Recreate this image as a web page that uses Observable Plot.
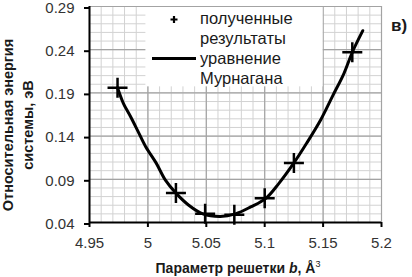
<!DOCTYPE html>
<html><head><meta charset="utf-8">
<script src="https://cdn.jsdelivr.net/npm/d3@7"></script>
<script src="https://cdn.jsdelivr.net/npm/@observablehq/plot@0.6"></script>
<style>
html,body{margin:0;padding:0;background:#fff;}
#chart{width:412px;height:277px;position:relative;}
#chart svg{font-family:"Liberation Sans",Arial,sans-serif;}
</style></head><body><div id="chart"></div>
<script>
// Data
const pointB = [4.974, 5.024, 5.049, 5.074, 5.100, 5.125, 5.175];
const pointE = [0.196, 0.074, 0.050, 0.049, 0.068, 0.109, 0.237];
const curveB = [4.974, 4.979, 4.985, 4.991, 4.998, 5.007, 5.015, 5.024, 5.035, 5.047, 5.062, 5.075, 5.088, 5.101, 5.112, 5.125, 5.136, 5.148, 5.158, 5.168, 5.175, 5.184];
const curveE = [0.196, 0.178, 0.163, 0.147, 0.128, 0.109, 0.089, 0.074, 0.060, 0.050, 0.047, 0.050, 0.058, 0.068, 0.085, 0.109, 0.132, 0.159, 0.186, 0.213, 0.237, 0.262];
const xTicks = [4.95, 5.0, 5.05, 5.1, 5.15, 5.2];
const xTickLabels = ["4.95", "5", "5.05", "5.1", "5.15", "5.2"];
const yTicks = [0.04, 0.09, 0.14, 0.19, 0.24, 0.29];
const yTickLabels = ["0.04", "0.09", "0.14", "0.19", "0.24", "0.29"];
const legendPoints = ["полученные", "результаты"];
const legendCurve = ["уравнение", "Мурнагана"];
const yLabelLines = ["Относительная энергия", "системы, эВ"];
const xLabelParts = ["Параметр решетки ", "b", ", Å", "3"];
const panelLabel = "в)";

const points = pointB.map((b, i) => ({b, e: pointE[i]}));
const curve = curveB.map((b, i) => ({b, e: curveE[i]}));
const minorX = d3.range(26).map(i => +(4.95 + i * 0.01).toFixed(2));
const minorY = d3.range(26).map(i => +(0.04 + i * 0.01).toFixed(2));

const W = 412, H = 277, ML = 89, MR = 31, MT = 6, MB = 55;
const xDomain = [4.95, 5.2], yDomain = [0.04, 0.29];

const plusSymbol = {
  draw(ctx, size) {
    const r = Math.sqrt(size / Math.PI);
    ctx.moveTo(-r, 0); ctx.lineTo(r, 0);
    ctx.moveTo(0, -r); ctx.lineTo(0, r);
  }
};

const NS = "http://www.w3.org/2000/svg";
function el(tag, attrs) {
  const e = document.createElementNS(NS, tag);
  for (const k in attrs) e.setAttribute(k, attrs[k]);
  return e;
}

const chart = Plot.plot({
  width: W, height: H,
  marginLeft: ML, marginRight: MR, marginTop: MT, marginBottom: MB,
  style: {color: "#333", background: "white", fontFamily: "Liberation Sans, Arial, sans-serif"},
  x: {domain: xDomain},
  y: {domain: yDomain},
  marks: [
    Plot.ruleX(minorX, {stroke: "#d2d2d2", strokeWidth: 1}),
    Plot.ruleY(minorY, {stroke: "#d2d2d2", strokeWidth: 1}),
    Plot.ruleX(xTicks, {stroke: "#a3a3a3", strokeWidth: 1.2}),
    Plot.ruleY(yTicks, {stroke: "#a3a3a3", strokeWidth: 1.2}),
    Plot.axisX({ticks: xTicks, tickFormat: d => xTickLabels[xTicks.indexOf(d)], tickSize: 5, tickPadding: 10, fontSize: 15, label: null, stroke: "black", strokeWidth: 2}),
    Plot.axisY({ticks: yTicks, tickFormat: d => yTickLabels[yTicks.indexOf(d)], tickSize: 5, tickPadding: 10, fontSize: 15, dy: 1.5, label: null, stroke: "black", strokeWidth: 2}),
    Plot.line(curve, {x: "b", y: "e", curve: "catmull-rom", stroke: "black", strokeWidth: 3}),
    Plot.dot(points, {x: "b", y: "e", symbol: plusSymbol, r: 10, stroke: "black", strokeWidth: 2.5, fill: "none"}),
    Plot.ruleX([4.95], {stroke: "black", strokeWidth: 2}),
    Plot.ruleY([0.04], {stroke: "black", strokeWidth: 2})
  ]
});

// pixel mapping consistent with the plot's linear scales
const X = v => ML + (v - xDomain[0]) / (xDomain[1] - xDomain[0]) * (W - ML - MR);
const Y = v => H - MB - (v - yDomain[0]) / (yDomain[1] - yDomain[0]) * (H - MT - MB);

// Legend (white box over the grid; the data never enters this region)
const lg = el("g", {"font-size": 16.5, fill: "#1a1a1a", "text-anchor": "start", "font-family": "Liberation Sans, Arial, sans-serif"});
const bx0 = X(5.0) - 2, bx1 = X(5.15), by0 = Y(0.29) + 1, by1 = Y(0.197);
lg.appendChild(el("rect", {x: bx0, y: by0, width: bx1 - bx0, height: by1 - by0, fill: "#ffffff", stroke: "none"}));
lg.appendChild(el("path", {d: "M170.5,19.5h7M174,16v7", stroke: "black", "stroke-width": 2.2, fill: "none"}));
lg.appendChild(el("line", {x1: 152, x2: 196, y1: 58.5, y2: 58.5, stroke: "black", "stroke-width": 3}));
[...legendPoints, ...legendCurve].forEach((t, i) => {
  const tx = el("text", {x: 200, y: 24 + i * 20});
  tx.textContent = t;
  lg.appendChild(tx);
});
chart.appendChild(lg);

// Axis titles and panel label
const g = el("g", {"font-weight": "bold", fill: "#1a1a1a", "font-family": "Liberation Sans, Arial, sans-serif"});
const yl = el("text", {transform: "translate(0,125) rotate(-90)", "text-anchor": "middle", "font-size": 14.5});
yLabelLines.forEach((t, i) => {
  const ts = el("tspan", {x: 0, y: i === 0 ? 12.5 : 33});
  ts.textContent = t;
  yl.appendChild(ts);
});
g.appendChild(yl);
const xl = el("text", {x: 238, y: 273, "text-anchor": "middle", "font-size": 14});
const t0 = el("tspan", {}); t0.textContent = xLabelParts[0];
const t1 = el("tspan", {"font-style": "italic"}); t1.textContent = xLabelParts[1];
const t2 = el("tspan", {}); t2.textContent = xLabelParts[2];
const t3 = el("tspan", {dy: -6, "font-size": 9, "font-weight": "normal"}); t3.textContent = xLabelParts[3];
[t0, t1, t2, t3].forEach(t => xl.appendChild(t));
g.appendChild(xl);
const pl = el("text", {x: 391, y: 31, "font-size": 17, "text-anchor": "start"});
pl.textContent = panelLabel;
g.appendChild(pl);
chart.appendChild(g);

document.getElementById("chart").appendChild(chart);
</script>
</body></html>
